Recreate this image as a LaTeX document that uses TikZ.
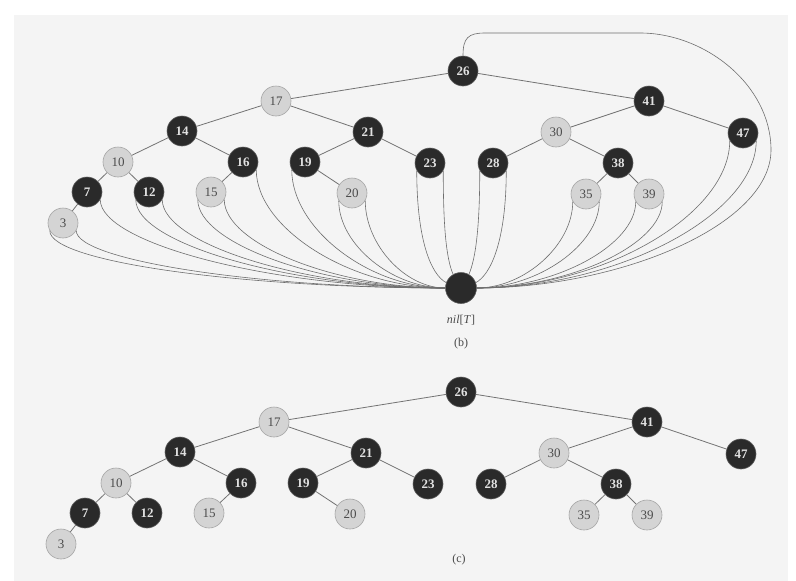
\documentclass[tikz,border=0pt]{standalone}
\usepackage{fontspec}
\setmainfont{Liberation Serif}
\definecolor{bgc}{RGB}{244,244,244}
\definecolor{dkfill}{RGB}{42,42,42}
\definecolor{dkedge}{RGB}{95,95,95}
\definecolor{dktext}{RGB}{225,225,225}
\definecolor{ltfill}{RGB}{212,212,212}
\definecolor{ltedge}{RGB}{165,165,165}
\definecolor{lttext}{RGB}{75,75,75}
\definecolor{edgec}{RGB}{115,115,115}
\definecolor{curvec}{RGB}{110,110,110}
\begin{document}
\begin{tikzpicture}[x=1pt,y=-1pt,
  blk/.style={circle, fill=dkfill, draw=dkedge, line width=0.6pt, minimum size=30pt, inner sep=0pt, text=dktext, font=\fontsize{13}{13}\selectfont\bfseries},
  lite/.style={circle, fill=ltfill, draw=ltedge, line width=0.6pt, minimum size=30pt, inner sep=0pt, text=lttext, font=\fontsize{13}{13}\selectfont},
  niln/.style={circle, fill=dkfill, draw=dkedge, line width=0.6pt, minimum size=31pt, inner sep=0pt},
  tedge/.style={draw=edgec, line width=0.8pt},
  nilc/.style={draw=curvec, line width=0.6pt},
  capt/.style={text=lttext, font=\fontsize{12}{12}\selectfont}
]
\useasboundingbox (0,0) rectangle (796,581);
\fill[bgc] (14,15) rectangle (788,581);

% ---------- tree (b) ----------
\foreach \n/\x/\y/\s in {26/463/71/blk, 17/276/101/lite, 41/649/101/blk, 14/182/131/blk, 21/368/132/blk, 30/556/132/lite, 47/743/133/blk, 10/118/162/lite, 16/243/162/blk, 19/305/162/blk, 23/430/163/blk, 28/493/163/blk, 38/618/163/blk, 7/87/192/blk, 12/149/192/blk, 15/211/192/lite, 20/352/193/lite, 35/586/194/lite, 39/649/194/lite, 3/63/223/lite}
  \node[\s] (b\n) at (\x,\y) {\n};
\foreach \a/\b in {26/17,26/41,17/14,17/21,14/10,14/16,10/7,10/12,7/3,16/15,21/19,21/23,19/20,41/30,41/47,30/28,30/38,38/35,38/39}
  \draw[tedge] (b\a) -- (b\b);

\node[niln] (bnil) at (461,288) {};
\node[capt] (nillab) at (461,320) {\textit{nil}[\textit{T}]};
\node[capt] (labb) at (461,344) {(b)};

% left-side NIL pointers
\draw[nilc] (b3.-150)  .. controls +(0,32) and +(-197,0) .. (bnil.west);
\draw[nilc] (b3.-30)   .. controls +(0,30) and +(-184,0) .. (bnil.west);
\draw[nilc] (b7.-30)   .. controls +(0,44) and +(-172,0) .. (bnil.west);
\draw[nilc] (b12.-150) .. controls +(0,44) and +(-154,0) .. (bnil.west);
\draw[nilc] (b12.-30)  .. controls +(0,44) and +(-141,0) .. (bnil.west);
\draw[nilc] (b15.-150) .. controls +(0,44) and +(-123,0) .. (bnil.west);
\draw[nilc] (b15.-30)  .. controls +(0,44) and +(-110,0) .. (bnil.west);
\draw[nilc] (b16.-30)  .. controls +(0,59) and +(-94,0) .. (bnil.west);
\draw[nilc] (b19.-150) .. controls +(0,59) and +(-76,0) .. (bnil.west);
\draw[nilc] (b20.-150) .. controls +(0,44) and +(-53,0) .. (bnil.west);
\draw[nilc] (b20.-30)  .. controls +(0,44) and +(-40,0) .. (bnil.west);
\draw[nilc] (b23.-150) .. controls +(0,70) and +(-15,-8) .. (bnil.160);
\draw[nilc] (b23.-30)  .. controls +(0,55) and +(-7,-16) .. (bnil.120);
% right-side NIL pointers
\draw[nilc] (b28.-150) .. controls +(0,55) and +(7,-16) .. (bnil.60);
\draw[nilc] (b28.-30)  .. controls +(0,70) and +(15,-8) .. (bnil.20);
\draw[nilc] (b35.-150) .. controls +(0,43) and +(48,0) .. (bnil.east);
\draw[nilc] (b35.-30)  .. controls +(0,43) and +(61,0) .. (bnil.east);
\draw[nilc] (b39.-150) .. controls +(0,43) and +(80,0) .. (bnil.east);
\draw[nilc] (b39.-30)  .. controls +(0,43) and +(92,0) .. (bnil.east);
\draw[nilc] (b47.-150) .. controls +(0,74) and +(126,0) .. (bnil.east);
\draw[nilc] (b47.-30)  .. controls +(0,74) and +(140,0) .. (bnil.east);
% parent pointer of the root
\draw[nilc] (b26.north) .. controls (463,38) and (468,33) .. (485,33) -- (640,33)
  .. controls (705,33) and (771,85) .. (771,150)
  .. controls (771,225) and (620,288) .. (bnil.east);

% ---------- tree (c) ----------
\begin{scope}[shift={(-2,321)}]
\foreach \n/\x/\y/\s in {26/463/71/blk, 17/276/101/lite, 41/649/101/blk, 14/182/131/blk, 21/368/132/blk, 30/556/132/lite, 47/743/133/blk, 10/118/162/lite, 16/243/162/blk, 19/305/162/blk, 23/430/163/blk, 28/493/163/blk, 38/618/163/blk, 7/87/192/blk, 12/149/192/blk, 15/211/192/lite, 20/352/193/lite, 35/586/194/lite, 39/649/194/lite, 3/63/223/lite}
  \node[\s] (c\n) at (\x,\y) {\n};
\foreach \a/\b in {26/17,26/41,17/14,17/21,14/10,14/16,10/7,10/12,7/3,16/15,21/19,21/23,19/20,41/30,41/47,30/28,30/38,38/35,38/39}
  \draw[tedge] (c\a) -- (c\b);
\node[capt] (labc) at (461,239) {(c)};
\end{scope}
\end{tikzpicture}
\end{document}
